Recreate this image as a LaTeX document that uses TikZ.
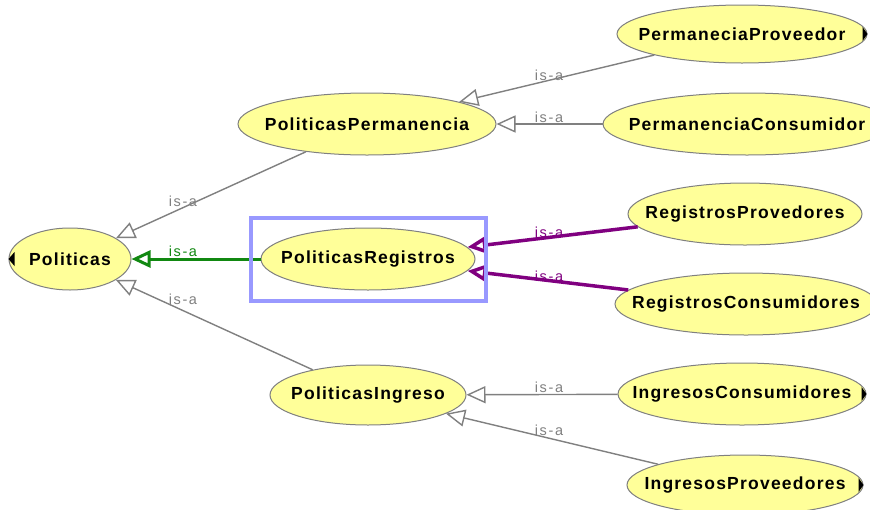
\documentclass[tikz,border=0pt]{standalone}
\usepackage{fontspec}
\setmainfont{Liberation Sans}
\newfontfamily\nodefont{Liberation Sans}[LetterSpace=7]
\newfontfamily\lblfont{Liberation Sans}[LetterSpace=11]
\usetikzlibrary{shapes.geometric,arrows.meta,fit}
\definecolor{nodefill}{HTML}{FFFF99}
\definecolor{edgegray}{HTML}{808080}
\definecolor{isagreen}{HTML}{118811}
\definecolor{isapurple}{HTML}{800080}
\definecolor{selblue}{HTML}{9999FF}
\begin{document}
\begin{tikzpicture}[x=1pt,y=-1pt,
  cls/.style={ellipse, draw=edgegray, line width=1pt, fill=nodefill, inner sep=0pt,
    font=\nodefont\bfseries\fontsize{17.5}{19}\selectfont},
  isa/.style={draw=edgegray, line width=1.4pt, -{Triangle[open,length=19pt,width=17pt]}},
  isagr/.style={draw=isagreen, line width=3pt, -{Triangle[open,length=19pt,width=17pt]}},
  isapu/.style={draw=isapurple, line width=3.5pt, -{Triangle[open,length=19pt,width=17pt]}},
  lbl/.style={inner sep=0pt, text=edgegray, font=\lblfont\fontsize{14.5}{16}\selectfont},
  expander/.style={fill=black},
  selbox/.style={draw=selblue, line width=4pt, inner sep=10pt}
]
\useasboundingbox[fill=white] (0,0) rectangle (870,509);

\node[cls, minimum width=122pt, minimum height=62pt] (pol) at (70,259) {\makebox[0pt]{Politicas}};
\node[cls, minimum width=258pt, minimum height=62pt] (pperm) at (367,124) {\makebox[0pt]{PoliticasPermanencia}};
\node[cls, minimum width=214pt, minimum height=62pt] (preg) at (368,259) {\makebox[0pt]{PoliticasRegistros}};
\node[cls, minimum width=196pt, minimum height=60pt] (ping) at (368,395) {\makebox[0pt]{PoliticasIngreso}};
\node[cls, minimum width=250pt, minimum height=58pt] (ppro) at (742,34) {\makebox[0pt]{PermaneciaProveedor}};
\node[cls, minimum width=288pt, minimum height=62pt] (pcon) at (747,124) {\makebox[0pt]{PermanenciaConsumidor}};
\node[cls, minimum width=234pt, minimum height=62pt] (rpro) at (745,214) {\makebox[0pt]{RegistrosProvedores}};
\node[cls, minimum width=262pt, minimum height=62pt] (rcon) at (746,304) {\makebox[0pt]{RegistrosConsumidores}};
\node[cls, minimum width=248pt, minimum height=62pt] (icon) at (742,394) {\makebox[0pt]{IngresosConsumidores}};
\node[cls, minimum width=236pt, minimum height=60pt] (iprov) at (745,485) {\makebox[0pt]{IngresosProveedores}};

\fill[expander] (pol.west) ++(6,-7) -- ++(0,14) -- ++(-6,-7) -- cycle;
\fill[expander] (ppro.east) ++(-5,-7) -- ++(0,14) -- ++(5,-7) -- cycle;
\fill[expander] (icon.east) ++(-5,-7) -- ++(0,14) -- ++(5,-7) -- cycle;
\fill[expander] (iprov.east) ++(-5,-7) -- ++(0,14) -- ++(5,-7) -- cycle;

\draw[isa] (pperm) -- (pol);
\draw[isagr] (preg) -- (pol);
\draw[isa] (ping) -- (pol);
\draw[isa] (ppro) -- (pperm);
\draw[isa] (pcon) -- (pperm);
\draw[isapu] (rpro) -- (preg);
\draw[isapu] (rcon) -- (preg);
\draw[isa] (icon) -- (ping);
\draw[isa] (iprov) -- (ping);

\node[selbox, fit=(preg)] (sel) {};

\node[lbl] (l1) at (183,201) {is-a};
\node[lbl, text=isagreen] (l2) at (183,251) {is-a};
\node[lbl] (l3) at (183,299) {is-a};
\node[lbl] (l4) at (549,75) {is-a};
\node[lbl] (l5) at (549,117) {is-a};
\node[lbl, text=isapurple] (l6) at (549,232) {is-a};
\node[lbl, text=isapurple] (l7) at (549,276) {is-a};
\node[lbl] (l8) at (549,387) {is-a};
\node[lbl] (l9) at (549,430) {is-a};
\end{tikzpicture}
\end{document}
